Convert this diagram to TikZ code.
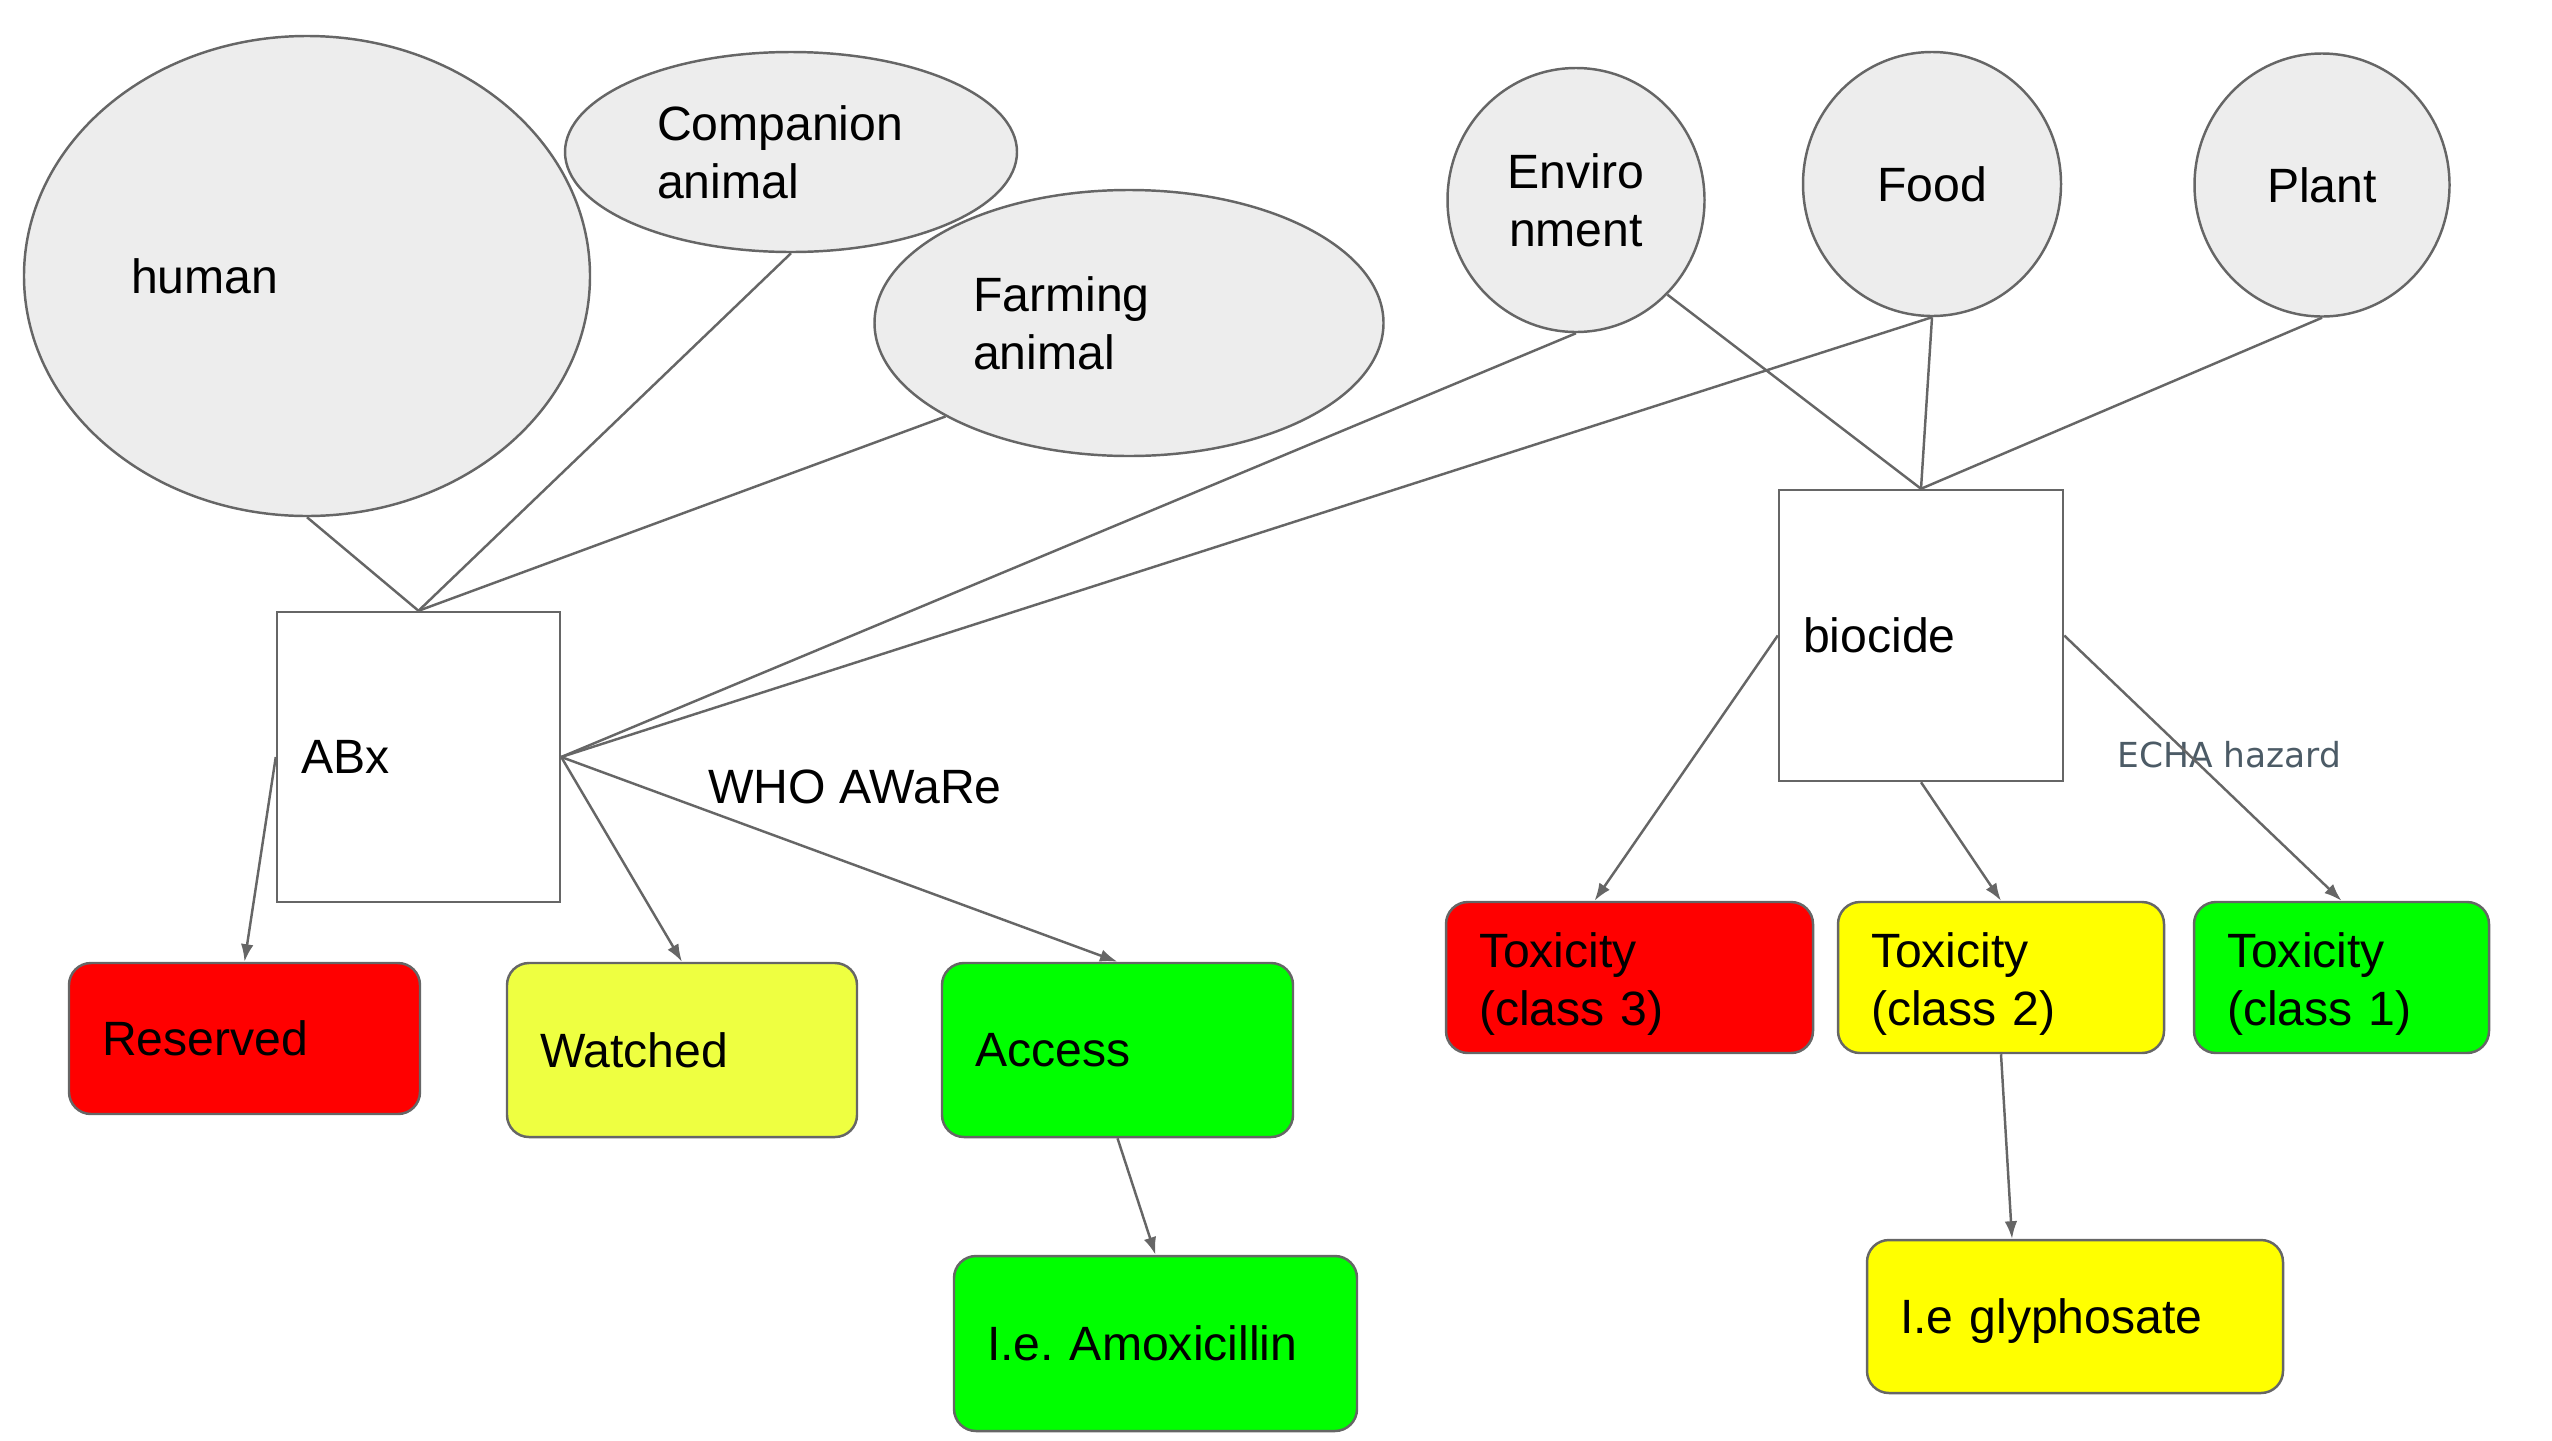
\documentclass[tikz,border=0pt]{standalone}
\usepackage{fontspec}
\setmainfont{Liberation Sans}
\newfontfamily\echafont{DejaVu Sans}
\usetikzlibrary{arrows.meta, shapes.geometric}

\definecolor{srcfill}{HTML}{EDEDED}
\definecolor{lnkgray}{HTML}{666666}
\definecolor{resred}{HTML}{FF0000}
\definecolor{watyellow}{HTML}{EEFF41}
\definecolor{accgreen}{HTML}{00FF00}
\definecolor{toxyellow}{HTML}{FFFF00}
\definecolor{echagray}{HTML}{4C5B66}

\begin{document}
\begin{tikzpicture}[font=\fontsize{13.7}{16.5}\selectfont]

   \tikzstyle{src}=[ellipse, draw=lnkgray, line width=0.7pt, fill=srcfill, inner sep=0pt, text=black]
   \tikzstyle{agent}=[rectangle, draw=lnkgray, line width=0.7pt, fill=white, inner xsep=0.24cm, align=left]
   \tikzstyle{cls}=[rectangle, rounded corners=0.22cm, draw=lnkgray, line width=0.7pt, inner xsep=0.33cm, align=left, text=black]
   \tikzstyle{tox}=[cls, minimum height=1.51cm, text height=0.47cm]
   \tikzstyle{lnk}=[draw=lnkgray, line width=0.7pt]
   \tikzstyle{arr}=[lnk, -{Latex[length=5pt,width=3.6pt]}]

   \useasboundingbox (0,0) rectangle (25.52,-14.40);

   % reservoirs
   \node[src, minimum width=5.66cm, minimum height=4.80cm, text width=3.52cm, align=left] (human) at (3.07,-2.76) {human};
   \node[src, minimum width=4.52cm, minimum height=2.00cm, text width=2.68cm, align=left] (comp) at (7.91,-1.52) {Companion\\animal};
   \node[src, minimum width=5.09cm, minimum height=2.66cm, text width=3.12cm, align=left] (farm) at (11.29,-3.23) {Farming\\animal};
   \node[src, minimum width=2.57cm, minimum height=2.64cm, align=center] (env) at (15.76,-2.00) {Enviro\\nment};
   \node[src, minimum width=2.58cm, minimum height=2.64cm] (food) at (19.32,-1.84) {Food};
   \node[src, minimum width=2.55cm, minimum height=2.63cm] (plant) at (23.22,-1.85) {Plant};

   % agents
   \node[agent, minimum height=2.90cm, text width=2.35cm] (abx) at (4.185,-7.57) {ABx};
   \node[agent, minimum height=2.91cm, text width=2.36cm] (bio) at (19.21,-6.355) {biocide};

   % WHO AWaRe classes
   \node[cls, fill=resred, minimum height=1.51cm, text width=2.85cm] (res) at (2.445,-10.385) {Reserved};
   \node[cls, fill=watyellow, minimum height=1.74cm, text width=2.84cm] (wat) at (6.82,-10.50) {Watched};
   \node[cls, fill=accgreen, minimum height=1.74cm, text width=2.85cm] (acc) at (11.175,-10.50) {Access};
   \node[cls, fill=accgreen, minimum height=1.75cm, text width=3.37cm] (amox) at (11.555,-13.435) {I.e.\ Amoxicillin};

   % ECHA classes
   \node[tox, fill=resred, text width=3.01cm] (tox3) at (16.295,-9.775) {Toxicity\\(class 3)};
   \node[tox, fill=toxyellow, text width=2.60cm] (tox2) at (20.01,-9.775) {Toxicity\\(class 2)};
   \node[tox, fill=accgreen, text width=2.29cm] (tox1) at (23.415,-9.775) {Toxicity\\(class 1)};
   \node[cls, fill=toxyellow, minimum height=1.53cm, text depth=0pt, text width=3.50cm] (glyph) at (20.75,-13.165) {I.e glyphosate};

   \node (who) at (8.55,-7.87) {WHO AWaRe};
   \node[font=\echafont\fontsize{9.8}{12}\selectfont, text=echagray] (echa) at (22.295,-7.55) {ECHA hazard};

   % links to ABx
   \draw[lnk] (human.south) -- (abx.north);
   \draw[lnk] (comp.south) -- (abx.north);
   \draw[lnk] (farm.207) -- (abx.north);
   \draw[lnk] (env.south) -- (abx.east);
   \draw[lnk] (food.south) -- (abx.east);

   % links to biocide
   \draw[lnk] (env.314) -- (bio.north);
   \draw[lnk] (food.south) -- (bio.north);
   \draw[lnk] (plant.south) -- (bio.north);

   \draw[arr] (abx.west) -- (res.north);
   \draw[arr] (abx.east) -- (wat.north);
   \draw[arr] (abx.east) -- (acc.north);
   \draw[arr] (acc.south) -- (amox.north);

   \draw[arr] (bio.west) -- ([xshift=-0.35cm]tox3.north);
   \draw[arr] (bio.south) -- (tox2.north);
   \draw[arr] (bio.east) -- (tox1.north);
   \draw[arr] (tox2.south) -- ([xshift=-0.63cm]glyph.north);

\end{tikzpicture}
\end{document}
